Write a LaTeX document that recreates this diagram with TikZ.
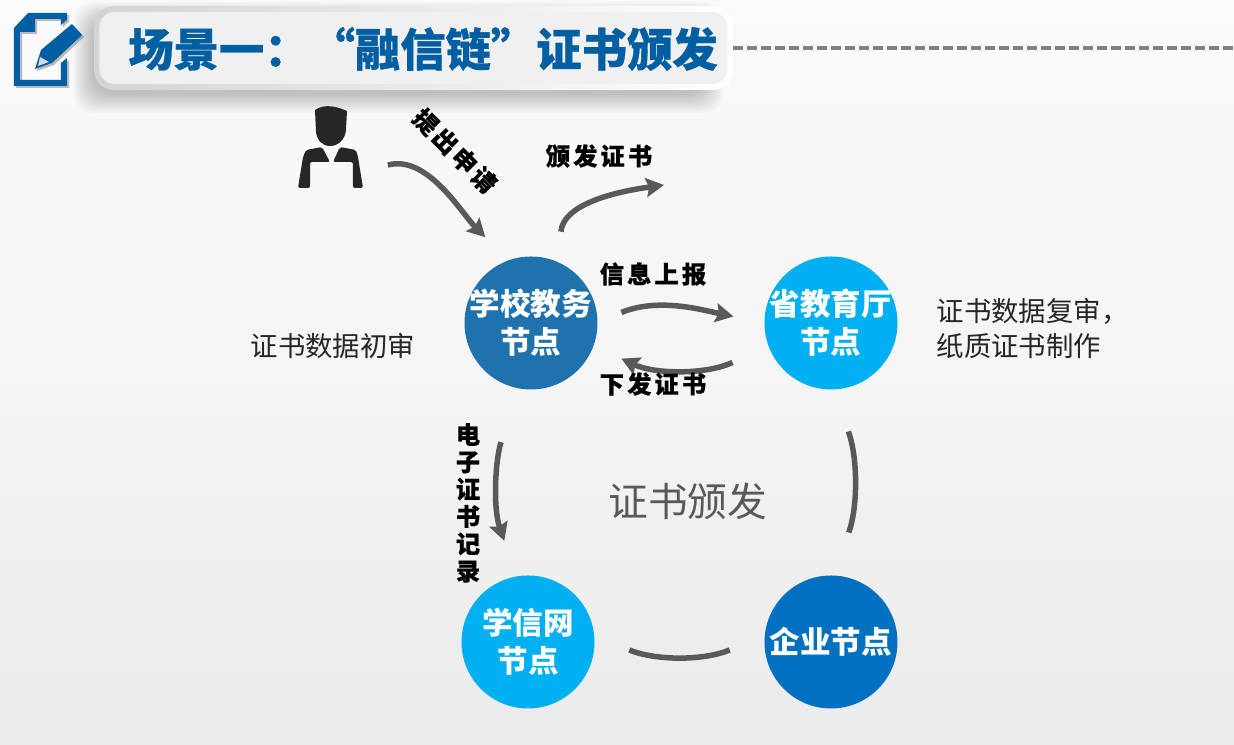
\documentclass[tikz,border=0pt]{standalone}
\usepackage{fontspec}
\setmainfont{Noto Sans CJK SC}
\newfontfamily\spacedcjk[LetterSpace=13, BoldFeatures={FakeBold=0.3}]{Noto Sans CJK SC}
\newfontfamily\heavycjk[BoldFeatures={FakeBold=0.7}]{Noto Sans CJK SC}
\usetikzlibrary{arrows.meta}

\definecolor{titleblue}{HTML}{005EA2}
\definecolor{flowgray}{HTML}{595959}
\definecolor{schoolblue}{HTML}{2072AE}
\definecolor{skyblue}{HTML}{00B0F0}
\definecolor{firmblue}{HTML}{0070C0}

\tikzset{
  peer/.style={circle, minimum size=1.33cm, inner sep=-0.3cm, text=white, align=center,
    font=\fontsize{8.7}{10.8}\selectfont\bfseries},
  flow/.style={line width=0.055cm, flowgray},
  flowtip/.style={flow, -{Stealth[length=0.18cm, width=0.19cm, inset=0.03cm]}},
  tag/.style={inner sep=0pt, black, align=center,
    font=\spacedcjk\fontsize{6.9}{7.77}\selectfont\bfseries},
  note/.style={inner sep=0pt, align=left, text=black!85,
    font=\fontsize{7.8}{9.96}\selectfont}
}

\begin{document}
\begin{tikzpicture}[x=1cm, y=1cm]

  \useasboundingbox (0.0, 0.0) rectangle (12.34, 7.45);

  % ================================================================
  % Slide background
  % ================================================================

  \shade[top color=black!2, bottom color=black!8, middle color=black!4]
    (0.0, 0.0) rectangle (12.34, 7.45);

  % ================================================================
  % Title bar
  % ================================================================

  \draw[line width=0.04cm, black!50, dash pattern=on 0.10cm off 0.04cm]
    (7.33, 6.97) -- (12.34, 6.97);

  % soft shadow, lower left of the frame
  \foreach \grow in {0.00, 0.02, ..., 0.20} {
    \fill[black, opacity=0.025, rounded corners=0.2cm]
      (0.92-\grow, 6.50-\grow) rectangle (7.05+\grow, 7.25+\grow);
  }

  \node[rounded corners=0.2cm, minimum width=6.39cm, minimum height=0.84cm,
        left color=black!17, right color=white]
    (titleFrame) at (4.135, 6.97) {};
  \node[rounded corners=0.15cm, minimum width=6.28cm, minimum height=0.72cm,
        fill=black!6]
    (titlePanel) at (titleFrame.center) {};
  \node[inner sep=0pt, titleblue, font=\heavycjk\fontsize{12.9}{15}\selectfont\bfseries]
    (titleText) at (4.23, 6.96) {场景一：“融信链”证书颁发};

  % ================================================================
  % Pencil icon
  % ================================================================

  \fill[black, opacity=0.25, even odd rule, shift={(0.02, -0.02)}]
    (0.14, 6.59) -- (0.14, 7.17) -- (0.28, 7.32) -- (0.67, 7.32) -- (0.67, 7.25)
    -- (0.61, 7.20) -- (0.61, 7.26) -- (0.35, 7.26) -- (0.35, 7.13) -- (0.20, 7.13)
    -- (0.20, 6.65) -- (0.61, 6.65) -- (0.61, 6.82) -- (0.67, 6.87) -- (0.67, 6.59)
    -- cycle;
  \fill[titleblue]
    (0.14, 6.59) -- (0.14, 7.17) -- (0.28, 7.32) -- (0.67, 7.32) -- (0.67, 7.25)
    -- (0.61, 7.20) -- (0.61, 7.26) -- (0.35, 7.26) -- (0.35, 7.13) -- (0.20, 7.13)
    -- (0.20, 6.65) -- (0.61, 6.65) -- (0.61, 6.82) -- (0.67, 6.87) -- (0.67, 6.59)
    -- cycle;
  \fill[black, opacity=0.25, shift={(0.02, -0.02)}]
    (0.72, 7.21) -- (0.82, 7.10) -- (0.52, 6.82) -- (0.35, 6.76) -- (0.41, 6.95) -- cycle;
  \fill[titleblue]
    (0.72, 7.21) -- (0.82, 7.10) -- (0.52, 6.82) -- (0.35, 6.76) -- (0.41, 6.95) -- cycle;
  \fill[black!15]
    (0.40, 6.88) -- (0.49, 6.83) -- (0.38, 6.79) -- cycle;

  % ================================================================
  % Applicant
  % ================================================================

  \node[minimum width=0.66cm, minimum height=0.86cm, inner sep=0pt]
    (applicant) at (3.30, 5.98) {};
  \fill[black!85]
    (3.15, 6.35) .. controls (3.25, 6.42) and (3.38, 6.38) .. (3.47, 6.34)
    -- (3.46, 6.15) .. controls (3.45, 6.05) and (3.38, 5.99) .. (3.30, 5.99)
    .. controls (3.22, 5.99) and (3.17, 6.05) .. (3.16, 6.13) -- cycle;
  \fill[black!85, rounded corners=0.02cm]
    (3.22, 5.98) -- (3.30, 5.83) -- (3.10, 5.83) -- (3.10, 5.57) -- (2.98, 5.57)
    -- (3.03, 5.88) -- (3.06, 5.95) -- cycle;
  \fill[black!85, rounded corners=0.02cm]
    (3.40, 5.98) -- (3.33, 5.83) -- (3.53, 5.83) -- (3.53, 5.57) -- (3.63, 5.57)
    -- (3.58, 5.88) -- (3.56, 5.95) -- cycle;

  % ================================================================
  % Peer nodes
  % ================================================================

  \node[peer, fill=schoolblue] (school) at (5.31, 4.22) {学校教务\\节点};
  \node[peer, fill=skyblue]    (bureau) at (8.31, 4.22) {省教育厅\\节点};
  \node[peer, fill=skyblue]    (chsi)   at (5.28, 1.03) {学信网\\节点};
  \node[peer, fill=firmblue]   (firm)   at (8.31, 1.03) {企业节点};

  % ================================================================
  % Notes
  % ================================================================

  \node[note] (schoolNote) at (3.33, 3.99) {证书数据初审};
  \node[note, anchor=west] (bureauNote) at (9.36, 4.16)
    {证书数据复审，\\纸质证书制作};
  \node[inner sep=0pt, flowgray, font=\fontsize{11.3}{13}\selectfont]
    (cycleName) at (6.88, 2.44) {证书颁发};

  % ================================================================
  % Arrows
  % ================================================================

  \coordinate (issueEnd) at (6.64, 5.60);

  % --- Applicant -> School ---
  \draw[flowtip, shorten <=0.25cm, shorten >=0.32cm]
    (applicant.-36) to[out=15, in=135] (school.110);
  \node[tag, rotate=-45] (applyTag) at (4.55, 5.94) {提出申请};

  % --- School -> outside ---
  \draw[flowtip, shorten <=0.30cm]
    (school.66) to[out=85, in=188, looseness=1.1] (issueEnd);
  \node[tag] (issueTag) at (5.99, 5.89) {颁发证书};

  % --- School <-> Bureau ---
  \draw[flowtip, shorten <=0.25cm, shorten >=0.31cm]
    (school.1) to[out=22, in=168] (bureau.west);
  \node[tag] (reportTag) at (6.53, 4.71) {信息上报};
  \draw[flowtip, shorten <=0.39cm, shorten >=0.30cm]
    (bureau.200) to[out=205, in=-25] (school.-20);
  \node[tag] (sendTag) at (6.53, 3.61) {下发证书};

  % --- School -> Chsi ---
  \draw[flowtip, shorten <=0.56cm, shorten >=0.37cm]
    (school.-100) to[out=251, in=109] (chsi.100);
  \node[tag] (recordTag) at (4.68, 2.42) {电\\子\\证\\书\\记\\录};

  % --- Bureau - Firm - Chsi ---
  \draw[flow, shorten <=0.44cm, shorten >=0.45cm]
    (bureau.-88) to[out=-70, in=70] (firm.88);
  \draw[flow, shorten <=0.37cm, shorten >=0.37cm]
    (firm.175) to[out=202, in=-22] (chsi.5);

\end{tikzpicture}
\end{document}
